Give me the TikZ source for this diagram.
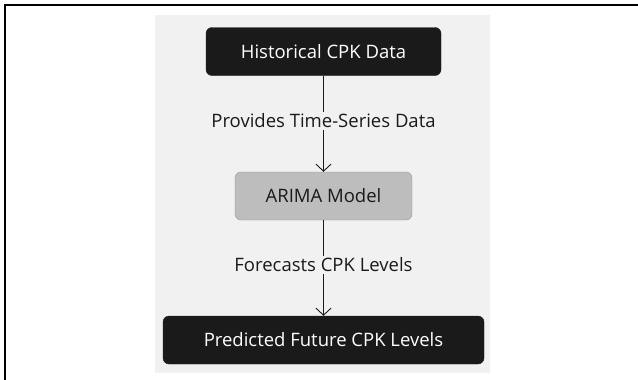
\documentclass[tikz,border=0pt]{standalone}
\usepackage{fontspec}
\setmainfont{Open Sans}
\usetikzlibrary{arrows.meta}

\definecolor{bggray}{HTML}{F1F1F1}
\definecolor{boxgray}{HTML}{BDBDBD}
\definecolor{edgegray}{HTML}{949494}
\definecolor{darkbox}{HTML}{1A1A1A}

\tikzset{
  darkstep/.style = {draw = darkbox, fill = darkbox, text = white, rounded corners = 6pt,
                     minimum height = 48pt, font = \fontsize{18.5}{22}\selectfont},
  modelstep/.style = {draw = edgegray, fill = boxgray, text = darkbox, rounded corners = 6pt,
                      minimum height = 48pt, minimum width = 177pt, font = \fontsize{18.5}{22}\selectfont},
  flowlabel/.style = {text = darkbox, inner sep = 2pt, font = \fontsize{18.5}{22}\selectfont},
  flow/.style = {draw = darkbox, line width = 0.9pt},
}

\begin{document}
\begin{tikzpicture}[x = 1pt, y = -1pt]

\useasboundingbox (0, 0) rectangle (638, 380);

	% outer frame
\draw [line width = 2pt] (5, 400) -- (5, 5) -- (660, 5);

	% background
\fill [bggray] (155, 15) rectangle (490, 373);

	% steps
\node [darkstep, minimum width = 235pt] (hist) at (323.5, 51.5) {Historical CPK Data};
\node [modelstep] (arima) at (323.5, 196) {ARIMA Model};
\node [darkstep, minimum width = 321pt] (pred) at (323.5, 340) {Predicted Future CPK Levels};

	% edge labels
\node [flowlabel] (provides) at (323.5, 121) {Provides Time-Series Data};
\node [flowlabel] (forecasts) at (323.5, 265) {Forecasts CPK Levels};

	% connectors
\draw [flow] (hist) -- (provides);
\draw [flow, -{Straight Barb[length = 7pt, width = 15pt]}] (provides) -- (arima);
\draw [flow] (arima) -- (forecasts);
\draw [flow, -{Straight Barb[length = 7pt, width = 15pt]}] (forecasts) -- (pred);

\end{tikzpicture}
\end{document}
